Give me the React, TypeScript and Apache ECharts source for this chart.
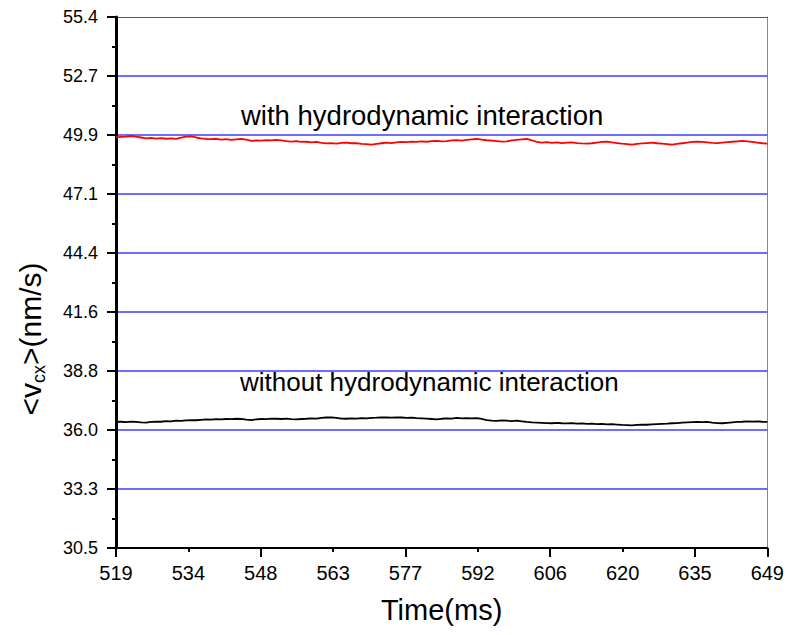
import React, { useEffect, useRef } from "react";
import * as echarts from "echarts";

// ---- axis ranges and tick labels ----
const xMin = 519;
const xMax = 649;
const yMin = 30.5;
const yMax = 55.4;
const xTickLabels = ["519", "534", "548", "563", "577", "592", "606", "620", "635", "649"];
const yTickLabels = ["30.5", "33.3", "36.0", "38.8", "41.6", "44.4", "47.1", "49.9", "52.7", "55.4"];

// ---- series: <v_cx> (nm/s), sampled every 1 ms from 519 ms ----
const timeStartMs = 519;
const timeStepMs = 1;

const withHI = [
  49.76, 49.78, 49.79, 49.82, 49.79, 49.75, 49.71, 49.73, 49.7, 49.72,
  49.69, 49.71, 49.68, 49.74, 49.79, 49.8, 49.75, 49.71, 49.68, 49.67,
  49.69, 49.65, 49.67, 49.64, 49.66, 49.68, 49.65, 49.59, 49.61, 49.6,
  49.63, 49.61, 49.64, 49.61, 49.58, 49.56, 49.58, 49.54, 49.55, 49.52,
  49.54, 49.5, 49.47, 49.49, 49.46, 49.5, 49.51, 49.48, 49.49, 49.45,
  49.44, 49.42, 49.45, 49.48, 49.51, 49.49, 49.52, 49.54, 49.53, 49.56,
  49.54, 49.57, 49.55, 49.58, 49.59, 49.57, 49.58, 49.61, 49.63, 49.6,
  49.64, 49.66, 49.68, 49.65, 49.62, 49.6, 49.58, 49.56, 49.57, 49.61,
  49.64, 49.66, 49.68, 49.62, 49.54, 49.51, 49.53, 49.5, 49.52, 49.49,
  49.51, 49.52, 49.49, 49.47, 49.46, 49.48, 49.51, 49.54, 49.56, 49.52,
  49.49, 49.46, 49.44, 49.42, 49.45, 49.47, 49.49, 49.51, 49.48, 49.46,
  49.44, 49.42, 49.45, 49.48, 49.51, 49.54, 49.56, 49.54, 49.52, 49.5,
  49.49, 49.51, 49.53, 49.55, 49.57, 49.59, 49.57, 49.54, 49.51, 49.48,
  49.46,
];

const withoutHI = [
  36.41, 36.42, 36.4, 36.43, 36.41, 36.39, 36.38, 36.41, 36.43, 36.42,
  36.45, 36.44, 36.47, 36.46, 36.48, 36.5, 36.49, 36.51, 36.53, 36.52,
  36.54, 36.53, 36.55, 36.54, 36.56, 36.55, 36.52, 36.5, 36.53, 36.55,
  36.54, 36.57, 36.56, 36.55, 36.57, 36.54, 36.53, 36.55, 36.56, 36.58,
  36.57, 36.6, 36.62, 36.63, 36.6, 36.57, 36.56, 36.58, 36.57, 36.59,
  36.58, 36.6, 36.61, 36.63, 36.62, 36.61, 36.63, 36.62, 36.6, 36.61,
  36.59, 36.58, 36.57, 36.55, 36.53, 36.56, 36.58, 36.57, 36.6, 36.58,
  36.59, 36.58, 36.59, 36.55, 36.5, 36.47, 36.46, 36.48, 36.47, 36.45,
  36.47, 36.44, 36.41, 36.39, 36.38, 36.37, 36.36, 36.35, 36.37, 36.35,
  36.34, 36.36, 36.33, 36.34, 36.32, 36.33, 36.31, 36.32, 36.3, 36.31,
  36.29, 36.27, 36.26, 36.25, 36.27, 36.29, 36.28, 36.3, 36.31, 36.32,
  36.33, 36.35, 36.36, 36.38, 36.39, 36.4, 36.41, 36.4, 36.41, 36.38,
  36.36, 36.35, 36.37, 36.39, 36.41, 36.42, 36.44, 36.43, 36.44, 36.42,
  36.41,
];

const seriesNames = ["with hydrodynamic interaction", "without hydrodynamic interaction"];

const FONT = "'Liberation Sans', Arial, sans-serif";

function evenTicks(min: number, max: number, n: number): number[] {
  return Array.from({ length: n }, (_, i) =>
    i === n - 1 ? max : Number((min + (i * (max - min)) / (n - 1)).toFixed(6))
  );
}

function nearestLabel(vals: number[], labels: string[], v: number): string {
  let best = 0;
  for (let i = 1; i < vals.length; i++) {
    if (Math.abs(vals[i] - v) < Math.abs(vals[best] - v)) best = i;
  }
  return labels[best];
}

export default function App() {
  const ref = useRef<HTMLDivElement>(null);

  useEffect(() => {
    if (!ref.current) return;
    const chart = echarts.init(ref.current, null, { renderer: "svg" });

    const xTickVals = evenTicks(xMin, xMax, xTickLabels.length);
    const yTickVals = evenTicks(yMin, yMax, yTickLabels.length);
    const lastX = xTickVals.length - 1;
    const xLongTicks = xTickVals.filter((_, i) => i % 2 === 0 || i === lastX);
    const xShortTicks = xTickVals.filter((_, i) => i % 2 === 1 && i !== lastX);
    const yMinorTicks = yTickVals.slice(1).map((v, i) => (v + yTickVals[i]) / 2);

    const redData = withHI.map((v, i) => [timeStartMs + i * timeStepMs, v]);
    const blackData = withoutHI.map((v, i) => [timeStartMs + i * timeStepMs, v]);

    const tickLine = { color: "#000", width: 2 };
    const borderAxis = {
      type: "value",
      axisTick: { show: false },
      axisLabel: { show: false },
      splitLine: { show: false },
      z: 1,
    };

    chart.setOption({
      animation: false,
      backgroundColor: "#fff",
      grid: {
        left: 116,
        right: 19,
        top: 17,
        bottom: 87,
        show: false,
      },
      xAxis: [
        {
          type: "value",
          min: xMin,
          max: xMax,
          position: "bottom",
          z: 3,
          axisLine: { show: true, onZero: false, lineStyle: { color: "#000", width: 2 } },
          axisTick: { show: true, customValues: xLongTicks, length: 9, lineStyle: tickLine },
          axisLabel: {
            customValues: xTickVals,
            formatter: (v: number) => nearestLabel(xTickVals, xTickLabels, v),
            margin: 15,
            fontSize: 20,
            color: "#000",
            fontFamily: FONT,
          },
          splitLine: { show: false },
          name: "Time(ms)",
          nameLocation: "middle",
          nameGap: 47,
          nameTextStyle: { fontSize: 29, color: "#000", fontFamily: FONT },
        },
        {
          type: "value",
          min: xMin,
          max: xMax,
          position: "bottom",
          z: 3,
          axisLine: { show: false, onZero: false },
          axisTick: { show: true, customValues: xShortTicks, length: 4, lineStyle: tickLine },
          axisLabel: { show: false },
          splitLine: { show: false },
        },
        {
          ...borderAxis,
          min: xMin,
          max: xMax,
          position: "top",
          axisLine: { show: true, onZero: false, lineStyle: { color: "#555", width: 1 } },
        },
      ],
      yAxis: [
        {
          type: "value",
          min: yMin,
          max: yMax,
          position: "left",
          z: 3,
          axisLine: { show: true, onZero: false, lineStyle: { color: "#000", width: 3 } },
          axisTick: { show: true, customValues: yTickVals, length: 9, lineStyle: tickLine },
          axisLabel: {
            customValues: yTickVals,
            formatter: (v: number) => nearestLabel(yTickVals, yTickLabels, v),
            margin: 18,
            fontSize: 18,
            color: "#000",
            fontFamily: FONT,
          },
          splitLine: {
            show: true,
            showMinLine: false,
            showMaxLine: false,
            lineStyle: { color: "#3c3cff", width: 1.5 },
          },
        },
        {
          type: "value",
          min: yMin,
          max: yMax,
          position: "left",
          z: 3,
          axisLine: { show: false, onZero: false },
          axisTick: { show: true, customValues: yMinorTicks, length: 4, lineStyle: tickLine },
          axisLabel: { show: false },
          splitLine: { show: false },
        },
        {
          ...borderAxis,
          min: yMin,
          max: yMax,
          position: "right",
          axisLine: { show: true, onZero: false, lineStyle: { color: "#888", width: 1 } },
        },
      ],
      series: [
        {
          name: seriesNames[0],
          type: "line",
          xAxisIndex: 0,
          yAxisIndex: 0,
          data: redData,
          showSymbol: false,
          symbol: "none",
          lineStyle: { color: "#ff0000", width: 1.8 },
          itemStyle: { color: "#ff0000" },
          z: 5,
        },
        {
          name: seriesNames[1],
          type: "line",
          xAxisIndex: 0,
          yAxisIndex: 0,
          data: blackData,
          showSymbol: false,
          symbol: "none",
          lineStyle: { color: "#000", width: 1.8 },
          itemStyle: { color: "#000" },
          z: 5,
        },
      ],
      graphic: [
        {
          type: "text",
          left: 241,
          top: 101,
          style: { text: seriesNames[0], font: `27.5px ${FONT}`, fill: "#000" },
        },
        {
          type: "text",
          left: 240,
          top: 369,
          style: { text: seriesNames[1], font: `26px ${FONT}`, fill: "#000" },
        },
        {
          type: "text",
          x: 30,
          y: 339,
          rotation: Math.PI / 2,
          style: {
            text: "{a|<v}{s|cx}{a|>(nm/s)}",
            align: "center",
            verticalAlign: "middle",
            rich: {
              a: { fontSize: 30, fontFamily: FONT, fill: "#000", lineHeight: 34 },
              s: {
                fontSize: 18,
                fontFamily: FONT,
                fill: "#000",
                lineHeight: 18,
                padding: [18, 0, 0, 0],
              },
            },
          },
        },
      ],
    });

    return () => chart.dispose();
  }, []);

  return (
    <div
      ref={ref}
      style={{ position: "fixed", left: 0, top: 0, width: 787, height: 635 }}
    />
  );
}
